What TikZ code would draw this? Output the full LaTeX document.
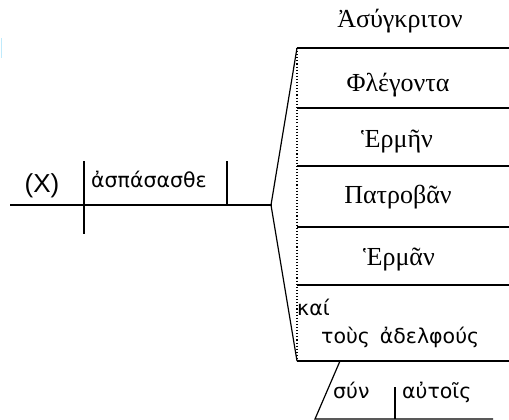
\documentclass[tikz,border=0pt]{standalone}
\usepackage{fontspec}
\setmainfont{Liberation Serif}
\newfontfamily\grsans{DejaVu Sans}
\newfontfamily\arsans{Liberation Sans}
\begin{document}
\begin{tikzpicture}[x=1pt,y=-1pt,
  ln/.style={line width=1.2pt, line cap=rect},
  dotln/.style={line width=1.1pt, dotted},
  nm/.style={font=\fontsize{26}{28}\selectfont, anchor=base, inner sep=0pt},
  sn/.style={font=\grsans\fontsize{20.5}{22}\selectfont, anchor=base west, inner sep=0pt}]
\useasboundingbox (0,0) rectangle (509,420);
\draw[cyan!25, line width=1pt] (1.5,38) -- (1.5,58);
% coordinates
\coordinate (mL) at (11,205);
\coordinate (apex) at (271,205);
\coordinate (sT) at (84,162); \coordinate (sB) at (84,233);
\coordinate (vT) at (227,162); \coordinate (vB) at (227,205);
\coordinate (t1) at (297,48); \coordinate (e1) at (509,48);
\coordinate (t2) at (297,108); \coordinate (e2) at (509,108);
\coordinate (t3) at (297,166); \coordinate (e3) at (509,166);
\coordinate (t4) at (297,227); \coordinate (e4) at (509,227);
\coordinate (t5) at (297,285); \coordinate (e5) at (509,285);
\coordinate (t6) at (297,361); \coordinate (e6) at (509,361);
\coordinate (sl1) at (340,361); \coordinate (sl2) at (315,419);
\coordinate (bE) at (493,419);
\coordinate (dT) at (395,387); \coordinate (dB) at (395,419);
% lines
\draw[ln] (mL) -- (apex);
\draw[ln] (sT) -- (sB);
\draw[ln] (vT) -- (vB);
\draw[ln, line cap=butt] (t1) -- (apex) -- (t6);
\foreach \i in {1,...,6} \draw[ln, line cap=butt] (t\i) -- (e\i);
\draw[dotln] (t1) -- (t6);
\draw[ln, line cap=butt] (sl1) -- (sl2) -- (bE);
\draw[ln, line cap=butt] (dT) -- (dB);
% texts
\node[nm] (n0) at (400,28) {Ἀσύγκριτον};
\node[nm] (n1) at (398,92) {Φλέγοντα};
\node[nm] (n2) at (397,147) {Ἑρμῆν};
\node[nm] (n3) at (398,203) {Πατροβᾶν};
\node[nm] (n4) at (399,265) {Ἑρμᾶν};
\node[sn] (kai) at (297,315) {καί};
\node[sn] (adel) at (321,343) {τοὺς\, ἀδελφούς};
\node[sn] (syn) at (333,398) {σύν};
\node[sn] (aut) at (402,398) {αὐτοῖς};
\node[sn] (verb) at (91,187) {ἀσπάσασθε};
\node[font=\arsans\fontsize{26}{28}\selectfont, anchor=base, inner sep=0pt] (subj) at (42,192) {(X)};
\end{tikzpicture}
\end{document}
